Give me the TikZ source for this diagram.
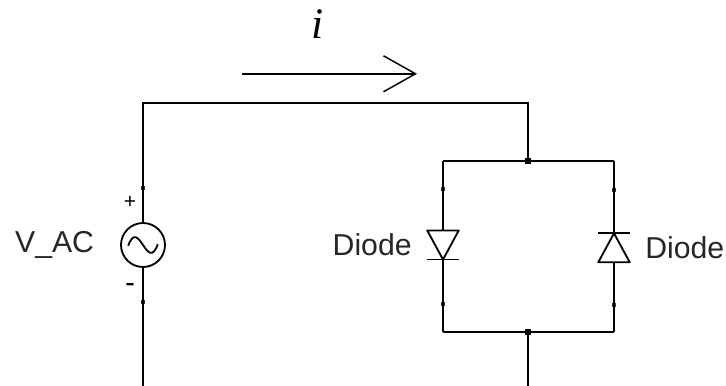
\documentclass[tikz,border=0pt]{standalone}
\usepackage{fontspec}
\setmainfont{Liberation Sans}
\newfontfamily\currentfont{Liberation Serif}
\usetikzlibrary{arrows.meta,calc}
\tikzset{
	tmp/.style = {coordinate},
	source/.style = {draw, fill=white, circle, line width=1.3pt, minimum size=1.1cm, inner sep=0pt},
	diode/.style = {rectangle, minimum width=0.75cm, minimum height=0.69cm, inner sep=0pt},
	junction/.style = {fill=black, rectangle, minimum size=0.13cm, inner sep=0pt},
	pinmark/.style = {fill=black!80, rectangle, minimum size=0.11cm, inner sep=0pt},
	label/.style = {font=\fontsize{21.5}{24}\selectfont, text=black!85},
	sign/.style = {font=\fontsize{15}{18}\selectfont, inner sep=0pt},
	heavy/.style = {line width=1.5pt}
}

\begin{document}
\begin{tikzpicture}[node distance=2.5cm,line width=1.05pt]
	% ========================== Nodes ============================
	% Outer loop
	\node [tmp] (tmpTL) {};
	\useasboundingbox ($(tmpTL)+(-3.575,2.575)$) rectangle ($(tmpTL)+(14.575,-7.075)$);
	\node [tmp, right of=tmpTL, node distance=9.625cm] (tmpTR) {};
	\node [source, below of=tmpTL, node distance=3.55cm] (vac) {};
	\node [tmp, below of=vac, node distance=3.525cm] (tmpBL) {};
	\node [pinmark, above of=vac, node distance=1.425cm] (pinAC1) {};
	\node [pinmark, below of=vac, node distance=1.425cm] (pinAC2) {};
	\node [label, left of=vac, node distance=2.21cm] (vacText) {V\_AC};
	\node [sign, above of=vac, xshift=-0.325cm, node distance=1.075cm] (plusText) {+};
	\node [sign, below of=vac, xshift=-0.325cm, node distance=1.075cm] (minusText) {\fontsize{21}{24}\selectfont -};

	% Diode pair
	\node [junction, below of=tmpTR, node distance=1.45cm] (jTop) {};
	\node [junction, below of=jTop, node distance=4.275cm] (jBot) {};
	\node [tmp, below of=jBot, node distance=1.35cm] (tmpBR) {};
	\node [tmp, left of=jTop, node distance=2.125cm] (tmpA1) {};
	\node [tmp, right of=jTop, node distance=2.15cm] (tmpB1) {};
	\node [tmp, left of=jBot, node distance=2.125cm] (tmpA2) {};
	\node [tmp, right of=jBot, node distance=2.15cm] (tmpB2) {};
	\node [diode, below of=tmpA1, node distance=2.1cm] (diodeA) {};
	\node [diode, below of=tmpB1, node distance=2.17cm] (diodeB) {};
	\node [pinmark, below of=tmpA1, node distance=0.7cm] (pinA1) {};
	\node [pinmark, above of=tmpA2, node distance=0.7cm] (pinA2) {};
	\node [pinmark, below of=tmpB1, node distance=0.72cm] (pinB1) {};
	\node [pinmark, above of=tmpB2, node distance=0.68cm] (pinB2) {};
	\node [label, left of=diodeA, node distance=1.77cm] (diodeAText) {Diode};
	\node [label, right of=diodeB, node distance=1.77cm] (diodeBText) {Diode};

	% Current arrow
	\node [tmp, above of=tmpTL, node distance=0.73cm] (tmpArrow) {};
	\node [tmp, right of=tmpArrow, node distance=2.475cm] (arrowStart) {};
	\node [tmp, right of=arrowStart, node distance=4.375cm] (arrowEnd) {};
	\node [above of=tmpTR, xshift=-5.25cm, node distance=1.98cm, font=\currentfont\itshape\fontsize{31}{33}\selectfont, inner sep=0pt] (currentText) {i};

	% ========================== Lines ============================
	\draw [-] (vac) -- (tmpTL) -- (tmpTR) -- (jTop);
	\draw [-] (vac) -- (tmpBL);
	\draw [-] (jBot) -- (tmpBR);
	\draw [-] (tmpA1) -- (tmpB1);
	\draw [-] (tmpA2) -- (tmpB2);
	\draw [-] (tmpA1) -- (diodeA.north);
	\draw [-] (diodeA.south) -- (tmpA2);
	\draw [-] (tmpB1) -- (diodeB.north);
	\draw [-] (diodeB.south) -- (tmpB2);
	\draw [-{Straight Barb[length=0.8cm,width=0.9cm]}] (arrowStart) -- (arrowEnd);

	% Heavier wire next to the parts
	\draw [heavy] (pinAC1) -- (vac);
	\draw [heavy] (vac) -- (pinAC2);
	\draw [heavy] (pinA1) -- (diodeA.north);
	\draw [heavy] (diodeB.south) -- (pinB2);

	% Diode symbols
	\draw [line width=1.3pt, line join=round] (diodeA.north west) -- (diodeA.north east) -- (diodeA.south) -- cycle;
	\draw [line width=1.3pt] (diodeA.south west) -- (diodeA.south east);
	\draw [line width=1.3pt, line join=round] (diodeB.south west) -- (diodeB.south east) -- (diodeB.north) -- cycle;
	\draw [line width=1.3pt] (diodeB.north west) -- (diodeB.north east);

	% Sine inside the source
	\draw [line width=1.3pt] ($(vac)+(-0.37,-0.02)$) .. controls ($(vac)+(-0.1,0.72)$) and ($(vac)+(0.1,-0.72)$) .. ($(vac)+(0.37,0.02)$);
\end{tikzpicture}
\end{document}
